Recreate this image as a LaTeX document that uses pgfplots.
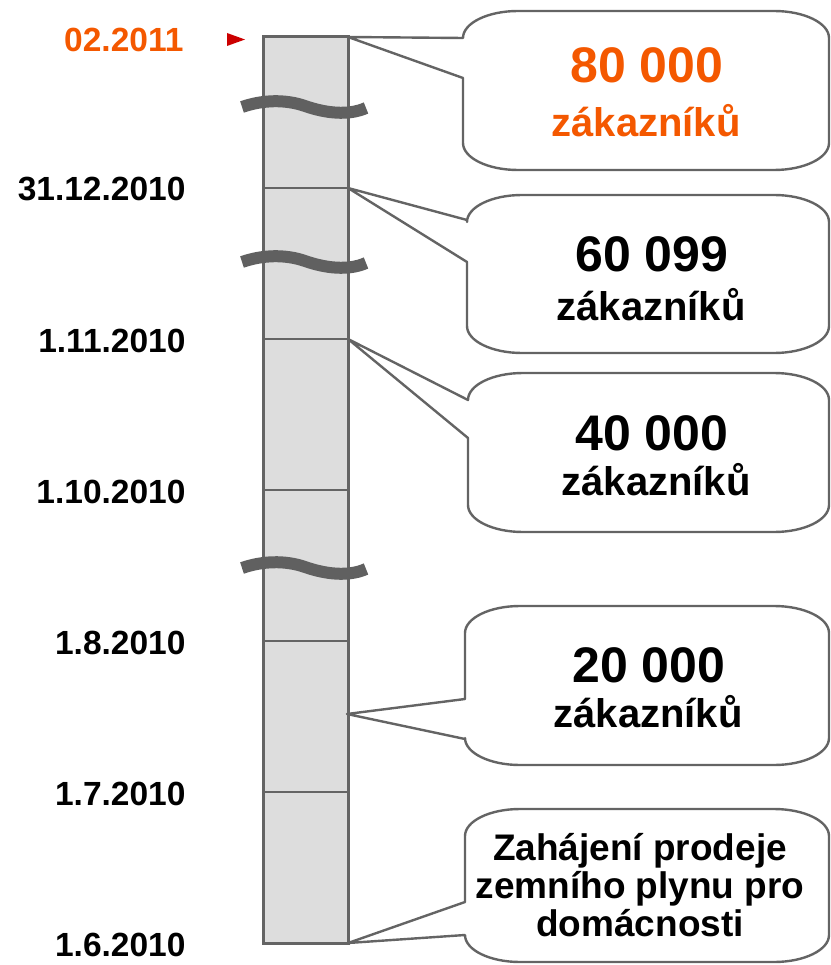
\documentclass[border=0pt]{standalone}
\usepackage{pgfplots}
\pgfplotsset{compat=1.18}
\usepackage{fontspec}
\setmainfont{Liberation Sans}
\definecolor{orng}{RGB}{244,88,0}
\definecolor{lgray}{RGB}{221,221,221}
\definecolor{dgray}{RGB}{100,100,100}
\definecolor{wgray}{RGB}{96,96,96}
\definecolor{tri}{RGB}{204,0,0}

\newcommand\callout[7]{% xL, yT, yB, yA1, yA2, tipx, tipy
  \pgfmathsetmacro\cA{#1+24.6}\pgfmathsetmacro\cB{#1+55}%
  \pgfmathsetmacro\cC{#2+12.1}\pgfmathsetmacro\cD{#2+27}%
  \pgfmathsetmacro\cE{#3-12.1}\pgfmathsetmacro\cF{#3-27}%
  \edef\cTmp{\noexpand\draw[dgray,line width=2.4pt,fill=white,line join=round] (#6,#7) -- (#1,#4) -- (#1,\cD) .. controls (#1,\cC) and (\cA,#2) .. (\cB,#2) -- (774,#2) .. controls (804.4,#2) and (829,\cC) .. (829,\cD) -- (829,\cF) .. controls (829,\cE) and (804.4,#3) .. (774,#3) -- (\cB,#3) .. controls (\cA,#3) and (#1,\cE) .. (#1,\cF) -- (#1,#5) -- cycle;}%
  \cTmp}

\begin{document}
\begin{tikzpicture}
\begin{axis}[width=830pt,height=965pt,scale only axis,
  xmin=0,xmax=830,ymin=0,ymax=965,y dir=reverse,
  hide axis,clip=false]
\addplot[draw=none] coordinates {(0,0) (830,965)};
% timeline bar
\addplot[fill=lgray, draw=dgray, line width=3pt] coordinates {(263,943) (348,943) (348,37) (263,37)} --cycle;
\addplot[dgray, line width=2.6pt] coordinates {(263,792) (348,792)};
\addplot[dgray, line width=2.6pt] coordinates {(263,641) (348,641)};
\addplot[dgray, line width=2.6pt] coordinates {(263,490) (348,490)};
\addplot[dgray, line width=2.6pt] coordinates {(263,339) (348,339)};
\addplot[dgray, line width=2.6pt] coordinates {(263,188) (348,188)};
% marker
\addplot[fill=tri, draw=none] coordinates {(227,33) (245,39.5) (227,46)} --cycle;
% breaks
\draw[wgray, line width=12pt] (242,107) .. controls (262,100) and (285,99) .. (305,106) .. controls (325,113) and (348,116) .. (366,108);
\draw[wgray, line width=12pt] (242,262) .. controls (262,255) and (285,254) .. (305,261) .. controls (325,268) and (348,271) .. (366,263);
\draw[wgray, line width=12pt] (242,568) .. controls (262,561) and (285,560) .. (305,567) .. controls (325,574) and (348,577) .. (366,569);
% callouts
\callout{463}{11}{170}{38}{78}{348}{37}
\callout{467}{195}{353}{220}{262}{348}{188}
\callout{468}{373}{532}{400}{438}{348}{339}
\callout{465}{606}{765}{699}{739}{347}{714}
\callout{465}{809}{962}{902}{935}{348}{943}
% date labels
\node[anchor=base east, text=orng, font=\fontsize{33.5}{40}\selectfont\bfseries] at (187,52) {02.2011};
\node[anchor=base east, font=\fontsize{33.5}{40}\selectfont\bfseries] at (189,201) {31.12.2010};
\node[anchor=base east, font=\fontsize{33.5}{40}\selectfont\bfseries] at (189,352) {1.11.2010};
\node[anchor=base east, font=\fontsize{33.5}{40}\selectfont\bfseries] at (189,503) {1.10.2010};
\node[anchor=base east, font=\fontsize{33.5}{40}\selectfont\bfseries] at (189,654) {1.8.2010};
\node[anchor=base east, font=\fontsize{33.5}{40}\selectfont\bfseries] at (189,805) {1.7.2010};
\node[anchor=base east, font=\fontsize{33.5}{40}\selectfont\bfseries] at (189,956) {1.6.2010};
% callout texts
\node[anchor=base, text=orng, font=\fontsize{50}{58}\selectfont\bfseries] at (647,83) {80 000};
\node[anchor=base, text=orng, font=\fontsize{40}{46}\selectfont\bfseries] at (646,137) {zákazníků};
\node[anchor=base, font=\fontsize{50}{58}\selectfont\bfseries] at (652,272) {60 099};
\node[anchor=base, font=\fontsize{40}{46}\selectfont\bfseries] at (651,320) {zákazníků};
\node[anchor=base, font=\fontsize{50}{58}\selectfont\bfseries] at (652,450) {40 000};
\node[anchor=base, font=\fontsize{40}{46}\selectfont\bfseries] at (656,495) {zákazníků};
\node[anchor=base, font=\fontsize{50}{58}\selectfont\bfseries] at (649,682) {20 000};
\node[anchor=base, font=\fontsize{40}{46}\selectfont\bfseries] at (648,727) {zákazníků};
\node[anchor=base, font=\fontsize{37}{38}\selectfont\bfseries] at (640,860) {Zahájení prodeje};
\node[anchor=base, font=\fontsize{37}{38}\selectfont\bfseries] at (640,898) {zemního plynu pro};
\node[anchor=base, font=\fontsize{37}{38}\selectfont\bfseries] at (640,936) {domácnosti};
\end{axis}
\end{tikzpicture}
\end{document}
